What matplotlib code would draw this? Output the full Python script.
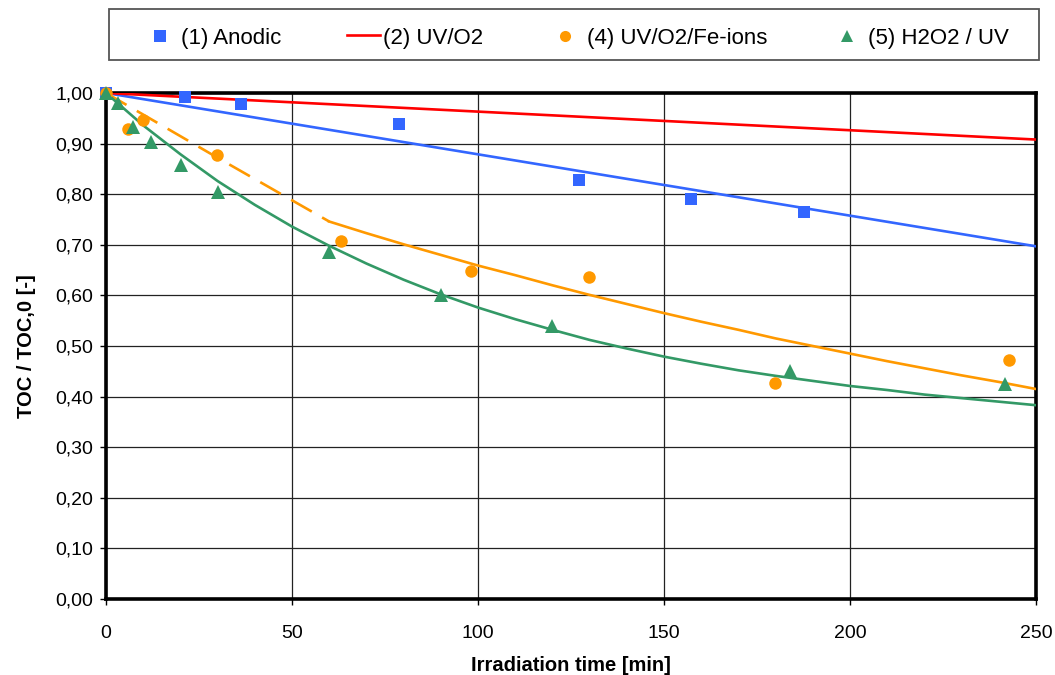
import matplotlib
matplotlib.use("Agg")
import matplotlib.pyplot as plt
from matplotlib.patches import Rectangle
from matplotlib.ticker import FuncFormatter, MultipleLocator

plt.rcParams['font.family'] = ['Liberation Sans', 'DejaVu Sans']

# Measured TOC/TOC,0 values
anodic_t = [0, 21.2, 36.3, 78.8, 127.2, 157.3, 187.6]
anodic_y = [1.00, 0.992, 0.978, 0.939, 0.828, 0.790, 0.765]

fe_t = [0, 6.0, 10.0, 29.8, 63.2, 98.1, 129.8, 179.8, 242.7]
fe_y = [1.00, 0.928, 0.947, 0.877, 0.708, 0.648, 0.636, 0.427, 0.472]

h2o2_t = [0, 3.2, 7.2, 12.1, 20.2, 30.2, 60.0, 90.0, 119.9, 183.9, 241.7]
h2o2_y = [1.00, 0.981, 0.933, 0.904, 0.858, 0.805, 0.686, 0.601, 0.540, 0.450, 0.425]

# Model curves
anodic_fit_t = [0, 250]
anodic_fit_y = [1.00, 0.697]

uvo2_fit_t = [0, 250]
uvo2_fit_y = [1.00, 0.908]

fe_dash_t = [0, 30, 60]
fe_dash_y = [1.00, 0.872, 0.746]
fe_fit_t = [60, 70, 80, 90, 100, 110, 120, 130, 140, 150, 160, 170, 180,
            190, 200, 210, 220, 230, 240, 250]
fe_fit_y = [0.746, 0.723, 0.701, 0.680, 0.659, 0.640, 0.620, 0.601, 0.583,
            0.565, 0.548, 0.532, 0.515, 0.500, 0.485, 0.470, 0.456, 0.442,
            0.429, 0.415]

h2o2_fit_t = [0, 10, 20, 30, 40, 50, 60, 70, 80, 90, 100, 110, 120, 130, 140,
              150, 160, 170, 180, 190, 200, 210, 220, 230, 240, 250]
h2o2_fit_y = [1.000, 0.936, 0.879, 0.826, 0.779, 0.736, 0.698, 0.663, 0.631,
              0.602, 0.576, 0.553, 0.532, 0.512, 0.495, 0.479, 0.465, 0.452,
              0.441, 0.431, 0.421, 0.413, 0.404, 0.397, 0.390, 0.383]

series_labels = ['(1) Anodic', '(2) UV/O2', '(4) UV/O2/Fe-ions', '(5) H2O2 / UV']

BLUE = '#3366FF'
RED = '#FF0000'
ORANGE = '#FF9900'
GREEN = '#339966'

W, H = 1055, 675
fig = plt.figure(figsize=(W / 100, H / 100), dpi=100)
ax = fig.add_axes([106 / W, 1 - 599 / H, 930 / W, 506 / H])

lw = 1.9
ax.plot(anodic_fit_t, anodic_fit_y, color=BLUE, lw=lw, zorder=3)
ax.plot(uvo2_fit_t, uvo2_fit_y, color=RED, lw=lw, zorder=3)
ax.plot(fe_dash_t, fe_dash_y, color=ORANGE, lw=lw, dashes=(9, 4.5), zorder=3)
ax.plot(fe_fit_t, fe_fit_y, color=ORANGE, lw=lw, zorder=3)
ax.plot(h2o2_fit_t, h2o2_fit_y, color=GREEN, lw=lw, zorder=3)

ax.plot(anodic_t, anodic_y, 's', color=BLUE, ms=9, mew=0, zorder=4, clip_on=False)
ax.plot(fe_t, fe_y, 'o', color=ORANGE, ms=9, mew=0, zorder=4, clip_on=False)
ax.plot(h2o2_t, h2o2_y, '^', color=GREEN, ms=9.5, mew=0, zorder=5, clip_on=False)

ax.set_xlim(0, 250)
ax.set_ylim(0, 1.0)
ax.xaxis.set_major_locator(MultipleLocator(50))
ax.yaxis.set_major_locator(MultipleLocator(0.1))
ax.yaxis.set_major_formatter(FuncFormatter(lambda v, p: f"{v:.2f}".replace('.', ',')))
ax.grid(True, color='#222222', lw=0.9)
ax.set_axisbelow(True)
for s in ax.spines.values():
    s.set_linewidth(2.6)
    s.set_color('black')
ax.tick_params(axis='both', direction='out', length=4, width=1, labelsize=14,
               colors='black')
ax.tick_params(axis='x', pad=15)
ax.tick_params(axis='y', pad=5)

ax.set_xlabel('Irradiation time [min]', fontsize=14.5, fontweight='bold', labelpad=10)
ax.set_ylabel('TOC / TOC,0 [-]', fontsize=14.5, fontweight='bold', labelpad=14)

# Legend box across the top, laid out in pixel coordinates
lax = fig.add_axes([0, 0, 1, 1], zorder=10)
lax.set_xlim(0, W)
lax.set_ylim(H, 0)
lax.axis('off')
lax.add_patch(Rectangle((109, 9), 930, 51, facecolor='white',
                        edgecolor='#555555', lw=1.3))
lax.plot([160], [36], 's', color=BLUE, ms=8.5, mew=0)
lax.plot([347, 380], [35, 35], '-', color=RED, lw=lw)
lax.plot([565], [36], 'o', color=ORANGE, ms=8, mew=0)
lax.plot([847], [36], '^', color=GREEN, ms=9, mew=0)
for x0, label in zip([181, 383, 587, 868], series_labels):
    lax.text(x0, 36, label, fontsize=16, ha='left', va='center_baseline')

fig.savefig('out.png', dpi=100)
